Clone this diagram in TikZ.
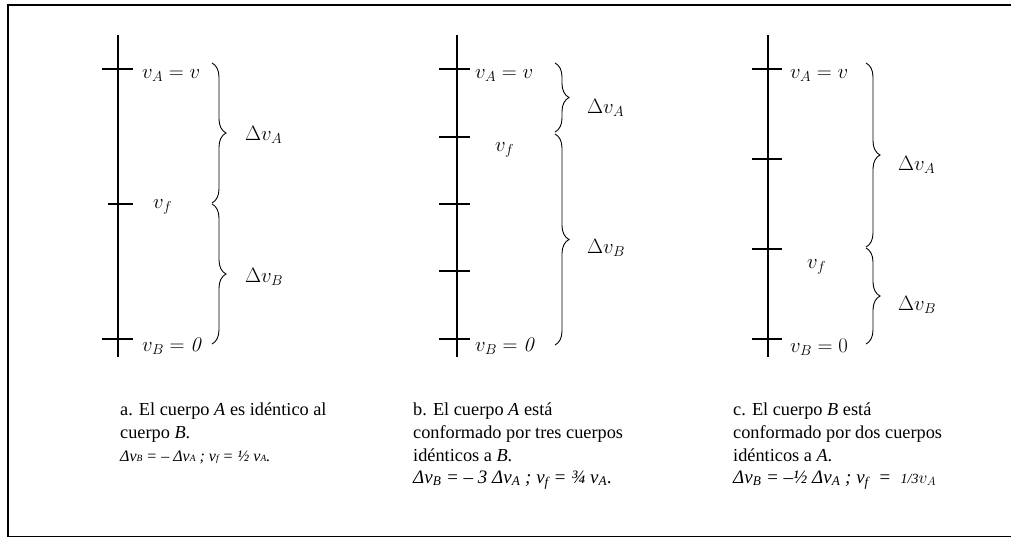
\documentclass[tikz,border=0pt]{standalone}
\usepackage[no-math]{fontspec}
\setmainfont{Liberation Serif}
\usetikzlibrary{decorations.pathreplacing}
\newcommand{\smallsub}[1]{{\fontsize{9.5}{10}\selectfont #1}}
\begin{document}
\begin{tikzpicture}[x=1pt,y=-1pt,
  axisline/.style={line width=1.2pt},
  tickline/.style={line width=1.2pt},
  brc/.style={decorate,decoration={brace,amplitude=14pt},line width=0.9pt},
  lab/.style={anchor=base west,inner sep=0pt,font=\fontsize{20}{22}\selectfont},
  captxt/.style={anchor=base west,inner sep=0pt,font=\fontsize{18.3}{22}\selectfont},
  eqn/.style={anchor=base west,inner sep=0pt,font=\fontsize{19}{22}\selectfont\itshape},
  eqnsmall/.style={eqn,font=\fontsize{16}{18}\selectfont\itshape},
]
\useasboundingbox (0,0) rectangle (1011,538);
\draw[line width=1.5pt] (1013,5) -- (8,5) -- (8,536.5) -- (1013,536.5);

% ---------- panel a ----------
\draw[axisline] (118,35) -- (118,357);
\draw[tickline] (102,69) -- (133,69);
\draw[tickline] (108,204) -- (133,204);
\draw[tickline] (102,339) -- (133,339);
\draw[brc] (212,63) -- (212,203);
\draw[brc] (212,204) -- (212,344);
\node[lab] (aA) at (142,78) {$v_A = v$};
\node[lab] (af) at (153,208) {$v_f$};
\node[lab] (aB) at (142,351) {$v_B = \mathit{0}$};
\node[lab] (adA) at (245,140) {$\Delta v_A$};
\node[lab] (adB) at (245,282) {$\Delta v_B$};
\node[captxt] (ca1) at (120,415) {a. El cuerpo \textit{A} es idéntico al};
\node[captxt] (ca2) at (120,438) {cuerpo \textit{B}.};
\node[eqnsmall] (ca3) at (120,461) {Δv\smallsub{B} = – Δv\smallsub{A} ; v\smallsub{f} = ½ v\smallsub{A}.};

% ---------- panel b ----------
\draw[axisline] (457,35) -- (457,357);
\draw[tickline] (439,69) -- (470,69);
\draw[tickline] (439,137) -- (470,137);
\draw[tickline] (439,204) -- (470,204);
\draw[tickline] (439,271) -- (470,271);
\draw[tickline] (439,339) -- (470,339);
\draw[brc] (555,63) -- (555,132);
\draw[brc] (555,134) -- (555,345);
\node[lab] (bA) at (475,78) {$v_A = v$};
\node[lab] (bf) at (495,151) {$v_f$};
\node[lab] (bB) at (475,351) {$v_B = \mathit{0}$};
\node[lab] (bdA) at (587,113) {$\Delta v_A$};
\node[lab] (bdB) at (587,253) {$\Delta v_B$};
\node[captxt] (cb1) at (413,415) {b. El cuerpo \textit{A} está};
\node[captxt] (cb2) at (413,438) {conformado por tres cuerpos};
\node[captxt] (cb3) at (413,461) {idénticos a \textit{B}.};
\node[eqn] (cb4) at (413,483) {Δv\textsubscript{B} = – 3 Δv\textsubscript{A} ; v\textsubscript{f} = ¾ v\textsubscript{A}.};

% ---------- panel c ----------
\draw[axisline] (768,35) -- (768,357);
\draw[tickline] (752,69) -- (782,69);
\draw[tickline] (752,159) -- (782,159);
\draw[tickline] (752,249) -- (782,249);
\draw[tickline] (752,339) -- (782,339);
\draw[brc] (866,63) -- (866,247);
\draw[brc] (866,248) -- (866,344);
\node[lab] (cA) at (790,78) {$v_A = v$};
\node[lab] (cf) at (807,268) {$v_f$};
\node[lab] (cB) at (790,352) {$v_B = 0$};
\node[lab] (cdA) at (898,170) {$\Delta v_A$};
\node[lab] (cdB) at (898,310) {$\Delta v_B$};
\node[captxt] (cc1) at (733,415) {c. El cuerpo \textit{B} está};
\node[captxt] (cc2) at (733,438) {conformado por dos cuerpos};
\node[captxt] (cc3) at (733,461) {idénticos a \textit{A}.};
\node[eqn] (cc4) at (733,483) {Δv\textsubscript{B} = –½ Δv\textsubscript{A} ; v\textsubscript{f} \ =\ \ {\fontsize{14}{14}\selectfont 1/3}{\fontsize{17}{17}\selectfont$v_A$}};
\end{tikzpicture}
\end{document}
